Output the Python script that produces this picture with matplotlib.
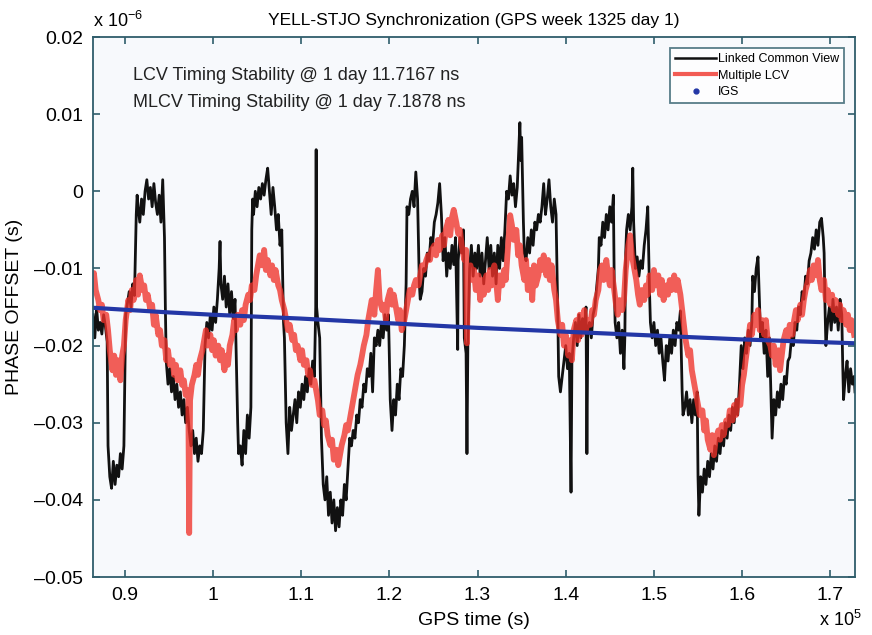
#!/usr/bin/env python
"""YELL-STJO synchronization: LCV vs multiple LCV vs IGS phase offset."""

import matplotlib

matplotlib.use("Agg")
import matplotlib.pyplot as plt
from matplotlib.lines import Line2D

# GPS time in units of 1e5 s, phase offset in units of 1e-6 s (as on the axes)
LCV_POINTS = [
    (0.864, -0.016), (0.866, -0.019), (0.868, -0.015), (0.870, -0.018), (0.872, -0.017),
    (0.874, -0.0185), (0.876, -0.016), (0.878, -0.0175), (0.880, -0.0195), (0.881, -0.033),
    (0.883, -0.037), (0.885, -0.0385), (0.887, -0.035), (0.889, -0.038), (0.891, -0.0355),
    (0.893, -0.037), (0.895, -0.034), (0.897, -0.036), (0.899, -0.033), (0.901, -0.016),
    (0.903, -0.0145), (0.905, -0.013), (0.907, -0.015), (0.909, -0.012), (0.911, -0.0135),
    (0.913, -0.003), (0.914, -0.0005), (0.915, -0.002), (0.917, -0.004), (0.919, -0.001),
    (0.921, -0.003), (0.923, 0.000), (0.925, 0.0015), (0.927, -0.001), (0.929, 0.0005),
    (0.931, -0.002), (0.933, 0.001), (0.935, -0.0015), (0.937, -0.003), (0.939, -0.0005),
    (0.941, -0.004), (0.943, 0.0015), (0.945, -0.006), (0.946, -0.015), (0.947, -0.022),
    (0.949, -0.025), (0.951, -0.023), (0.953, -0.026), (0.955, -0.024), (0.957, -0.027),
    (0.959, -0.025), (0.961, -0.028), (0.963, -0.026), (0.965, -0.029), (0.967, -0.027),
    (0.969, -0.030), (0.971, -0.028), (0.973, -0.031), (0.975, -0.033), (0.977, -0.031),
    (0.979, -0.034), (0.981, -0.032), (0.983, -0.035), (0.985, -0.033), (0.987, -0.034),
    (0.989, -0.031), (0.991, -0.020), (0.993, -0.017), (0.995, -0.019), (0.997, -0.016),
    (0.999, -0.018), (1.001, -0.015), (1.003, -0.017), (1.005, -0.014), (1.007, -0.010),
    (1.008, -0.0065), (1.009, -0.012), (1.011, -0.014), (1.013, -0.011), (1.015, -0.015),
    (1.017, -0.012), (1.019, -0.016), (1.021, -0.013), (1.023, -0.0165), (1.025, -0.014),
    (1.028, -0.030), (1.029, -0.034), (1.031, -0.033), (1.033, -0.0355), (1.035, -0.031),
    (1.037, -0.034), (1.039, -0.029), (1.041, -0.032), (1.043, -0.028), (1.044, -0.005),
    (1.045, -0.001), (1.046, -0.003), (1.048, 0.000), (1.050, -0.002), (1.052, 0.0005),
    (1.054, -0.001), (1.056, 0.001), (1.058, -0.0005), (1.060, 0.0015), (1.062, 0.003),
    (1.064, 0.000), (1.066, -0.003), (1.068, 0.0005), (1.070, -0.002), (1.072, -0.005),
    (1.074, -0.003), (1.076, -0.007), (1.078, -0.005), (1.080, -0.017), (1.081, -0.019),
    (1.083, -0.030), (1.085, -0.034), (1.087, -0.028), (1.089, -0.031), (1.091, -0.029),
    (1.093, -0.027), (1.095, -0.030), (1.097, -0.026), (1.099, -0.028), (1.101, -0.025),
    (1.103, -0.027), (1.105, -0.024), (1.107, -0.026), (1.109, -0.023), (1.111, -0.025),
    (1.113, -0.022), (1.115, -0.024), (1.1165, -0.015), (1.117, 0.0054), (1.1175, -0.015),
    (1.119, -0.017), (1.121, -0.019), (1.123, -0.032), (1.125, -0.038), (1.127, -0.040),
    (1.129, -0.037), (1.131, -0.042), (1.133, -0.039), (1.135, -0.043), (1.137, -0.040),
    (1.139, -0.044), (1.141, -0.041), (1.143, -0.0435), (1.145, -0.040), (1.147, -0.042),
    (1.149, -0.038), (1.151, -0.040), (1.153, -0.036), (1.155, -0.032), (1.157, -0.033),
    (1.159, -0.031), (1.161, -0.032), (1.163, -0.029), (1.165, -0.030), (1.167, -0.027),
    (1.169, -0.028), (1.171, -0.025), (1.173, -0.026), (1.175, -0.023), (1.177, -0.024),
    (1.179, -0.021), (1.181, -0.026), (1.183, -0.019), (1.185, -0.020), (1.187, -0.018),
    (1.189, -0.020), (1.191, -0.017), (1.193, -0.019), (1.195, -0.016), (1.197, -0.018),
    (1.199, -0.016), (1.201, -0.027), (1.203, -0.031), (1.205, -0.027), (1.207, -0.029),
    (1.209, -0.025), (1.211, -0.027), (1.213, -0.023), (1.215, -0.024), (1.217, -0.020),
    (1.219, -0.012), (1.220, -0.002), (1.222, -0.003), (1.224, -0.001), (1.226, 0.000),
    (1.228, -0.002), (1.230, 0.0025), (1.232, -0.001), (1.234, -0.012), (1.235, -0.014),
    (1.237, -0.013), (1.239, -0.010), (1.241, -0.011), (1.243, -0.008), (1.245, -0.009),
    (1.247, -0.006), (1.249, -0.007), (1.251, -0.004), (1.253, -0.003), (1.255, -0.0015),
    (1.257, 0.001), (1.259, -0.003), (1.261, -0.009), (1.263, -0.006), (1.265, -0.011),
    (1.267, -0.008), (1.269, -0.010), (1.271, -0.007), (1.273, -0.0095), (1.275, -0.006),
    (1.2775, -0.0205), (1.278, -0.009), (1.280, -0.006), (1.282, -0.008), (1.284, -0.005),
    (1.285, -0.019), (1.287, -0.021), (1.288, -0.034), (1.289, -0.020), (1.291, -0.010),
    (1.293, -0.007), (1.295, -0.011), (1.297, -0.008), (1.299, -0.010), (1.301, -0.007),
    (1.303, -0.011), (1.305, -0.008), (1.307, -0.012), (1.309, -0.009), (1.311, -0.006),
    (1.313, -0.010), (1.315, -0.007), (1.317, -0.011), (1.319, -0.008), (1.321, -0.012),
    (1.323, -0.007), (1.325, -0.010), (1.327, -0.006), (1.329, -0.009), (1.331, -0.005),
    (1.333, 0.000), (1.335, -0.001), (1.337, 0.002), (1.339, -0.0005), (1.341, 0.001),
    (1.343, -0.002), (1.345, 0.0005), (1.347, 0.006), (1.348, 0.0089), (1.349, 0.004),
    (1.350, 0.007), (1.352, -0.004), (1.353, -0.008), (1.355, -0.009), (1.357, -0.006),
    (1.359, -0.008), (1.361, -0.005), (1.363, -0.007), (1.365, -0.004), (1.367, -0.005),
    (1.369, -0.003), (1.371, -0.004), (1.373, -0.002), (1.375, 0.001), (1.377, -0.003),
    (1.379, -0.001), (1.381, 0.0015), (1.383, -0.002), (1.385, -0.004), (1.387, -0.001),
    (1.389, -0.003), (1.391, -0.016), (1.392, -0.024), (1.394, -0.026), (1.396, -0.024),
    (1.398, -0.022), (1.400, -0.020), (1.402, -0.023), (1.404, -0.021), (1.406, -0.039),
    (1.407, -0.022), (1.409, -0.019), (1.411, -0.017), (1.413, -0.020), (1.415, -0.016),
    (1.417, -0.019), (1.419, -0.0165), (1.421, -0.018), (1.423, -0.015), (1.424, -0.034),
    (1.425, -0.018), (1.427, -0.017), (1.429, -0.019), (1.431, -0.016), (1.433, -0.015),
    (1.437, -0.010), (1.438, -0.006), (1.440, -0.007), (1.442, -0.004), (1.444, -0.006),
    (1.446, -0.003), (1.448, -0.005), (1.450, -0.002), (1.452, -0.004), (1.454, -0.0005),
    (1.455, -0.012), (1.456, -0.017), (1.458, -0.019), (1.460, -0.017), (1.462, -0.021),
    (1.464, -0.018), (1.466, -0.023), (1.467, -0.019), (1.468, -0.008), (1.469, -0.005),
    (1.471, -0.003), (1.473, -0.005), (1.475, -0.002), (1.476, 0.003), (1.477, -0.004),
    (1.479, -0.010), (1.481, -0.0085), (1.483, -0.011), (1.485, -0.009), (1.487, -0.010),
    (1.489, -0.007), (1.491, -0.005), (1.493, -0.002), (1.495, -0.013), (1.496, -0.017),
    (1.498, -0.019), (1.500, -0.017), (1.502, -0.020), (1.504, -0.018), (1.506, -0.021),
    (1.508, -0.019), (1.510, -0.022), (1.512, -0.0245), (1.514, -0.020), (1.516, -0.022),
    (1.518, -0.019), (1.520, -0.021), (1.522, -0.018), (1.524, -0.020), (1.526, -0.017),
    (1.528, -0.018), (1.530, -0.0155), (1.532, -0.026), (1.533, -0.029), (1.535, -0.028),
    (1.537, -0.026), (1.539, -0.029), (1.541, -0.027), (1.543, -0.030), (1.545, -0.027),
    (1.547, -0.029), (1.549, -0.026), (1.550, -0.037), (1.551, -0.042), (1.553, -0.037),
    (1.555, -0.039), (1.557, -0.036), (1.559, -0.038), (1.561, -0.035), (1.563, -0.037),
    (1.565, -0.034), (1.567, -0.036), (1.569, -0.033), (1.571, -0.035), (1.573, -0.032),
    (1.575, -0.034), (1.577, -0.031), (1.579, -0.033), (1.581, -0.030), (1.583, -0.032),
    (1.585, -0.029), (1.587, -0.031), (1.589, -0.028), (1.591, -0.030), (1.593, -0.027),
    (1.595, -0.029), (1.597, -0.025), (1.599, -0.020), (1.601, -0.023), (1.603, -0.019),
    (1.605, -0.021), (1.607, -0.018), (1.609, -0.020), (1.611, -0.017), (1.612, -0.011),
    (1.614, -0.013), (1.616, -0.010), (1.618, -0.0085), (1.619, -0.012), (1.621, -0.019),
    (1.623, -0.017), (1.625, -0.021), (1.627, -0.018), (1.629, -0.024), (1.631, -0.019),
    (1.634, -0.032), (1.636, -0.027), (1.638, -0.029), (1.640, -0.026), (1.642, -0.028),
    (1.644, -0.025), (1.646, -0.027), (1.648, -0.024), (1.650, -0.025), (1.652, -0.022),
    (1.654, -0.0215), (1.656, -0.019), (1.658, -0.020), (1.660, -0.017), (1.662, -0.018),
    (1.664, -0.015), (1.666, -0.016), (1.668, -0.013), (1.670, -0.014), (1.672, -0.011),
    (1.674, -0.012), (1.676, -0.009), (1.678, -0.008), (1.680, -0.006), (1.682, -0.0075),
    (1.684, -0.005), (1.686, -0.007), (1.688, -0.004), (1.690, -0.0035), (1.692, -0.006),
    (1.693, -0.008), (1.694, -0.015), (1.695, -0.020), (1.697, -0.017), (1.699, -0.015),
    (1.701, -0.018), (1.703, -0.014), (1.705, -0.017), (1.707, -0.015), (1.709, -0.018),
    (1.711, -0.014), (1.713, -0.016), (1.714, -0.022), (1.715, -0.027), (1.717, -0.024),
    (1.719, -0.022), (1.721, -0.026), (1.723, -0.023), (1.725, -0.025), (1.727, -0.024),
    (1.728, -0.026),
]

MLCV_POINTS = [
    (0.864, -0.0122), (0.865, -0.0106), (0.867, -0.0128), (0.870, -0.0141), (0.872, -0.0154),
    (0.874, -0.0147), (0.876, -0.0167), (0.879, -0.0160), (0.881, -0.0180), (0.883, -0.0206),
    (0.886, -0.0232), (0.888, -0.0213), (0.890, -0.0238), (0.892, -0.0219), (0.895, -0.0245),
    (0.897, -0.0213), (0.899, -0.0200), (0.901, -0.0167), (0.904, -0.0141), (0.906, -0.0154),
    (0.908, -0.0128), (0.910, -0.0141), (0.913, -0.0115), (0.915, -0.0134), (0.917, -0.0109),
    (0.920, -0.0128), (0.922, -0.0122), (0.924, -0.0141), (0.926, -0.0134), (0.929, -0.0154),
    (0.931, -0.0147), (0.933, -0.0173), (0.935, -0.0160), (0.938, -0.0186), (0.940, -0.0180),
    (0.942, -0.0200), (0.945, -0.0193), (0.947, -0.0219), (0.949, -0.0206), (0.951, -0.0225),
    (0.954, -0.0219), (0.956, -0.0238), (0.958, -0.0225), (0.960, -0.0245), (0.963, -0.0232),
    (0.965, -0.0251), (0.967, -0.0245), (0.969, -0.0264), (0.972, -0.0258), (0.973, -0.0443),
    (0.974, -0.0271), (0.976, -0.0251), (0.979, -0.0238), (0.981, -0.0225), (0.983, -0.0238),
    (0.985, -0.0219), (0.988, -0.0206), (0.990, -0.0193), (0.992, -0.0180), (0.994, -0.0200),
    (0.997, -0.0186), (0.999, -0.0206), (1.001, -0.0193), (1.003, -0.0213), (1.006, -0.0200),
    (1.008, -0.0219), (1.010, -0.0206), (1.013, -0.0232), (1.015, -0.0213), (1.017, -0.0225),
    (1.019, -0.0200), (1.022, -0.0186), (1.024, -0.0167), (1.026, -0.0180), (1.028, -0.0160),
    (1.031, -0.0173), (1.033, -0.0154), (1.035, -0.0167), (1.037, -0.0147), (1.040, -0.0134),
    (1.042, -0.0141), (1.044, -0.0122), (1.047, -0.0128), (1.049, -0.0109), (1.051, -0.0096),
    (1.053, -0.0083), (1.056, -0.0096), (1.058, -0.0076), (1.060, -0.0102), (1.062, -0.0089),
    (1.065, -0.0109), (1.067, -0.0096), (1.069, -0.0115), (1.071, -0.0102), (1.074, -0.0122),
    (1.076, -0.0128), (1.078, -0.0141), (1.081, -0.0154), (1.083, -0.0167), (1.085, -0.0180),
    (1.087, -0.0173), (1.090, -0.0193), (1.092, -0.0186), (1.094, -0.0206), (1.096, -0.0200),
    (1.099, -0.0219), (1.101, -0.0206), (1.103, -0.0225), (1.106, -0.0219), (1.108, -0.0238),
    (1.110, -0.0232), (1.112, -0.0251), (1.115, -0.0245), (1.117, -0.0258), (1.119, -0.0271),
    (1.121, -0.0290), (1.124, -0.0284), (1.126, -0.0303), (1.128, -0.0297), (1.130, -0.0316),
    (1.133, -0.0329), (1.135, -0.0322), (1.137, -0.0348), (1.140, -0.0335), (1.142, -0.0355),
    (1.144, -0.0342), (1.146, -0.0329), (1.149, -0.0316), (1.151, -0.0303), (1.153, -0.0310),
    (1.155, -0.0297), (1.158, -0.0277), (1.160, -0.0264), (1.162, -0.0251), (1.164, -0.0238),
    (1.167, -0.0225), (1.169, -0.0213), (1.171, -0.0200), (1.174, -0.0186), (1.176, -0.0167),
    (1.178, -0.0154), (1.180, -0.0141), (1.183, -0.0160), (1.185, -0.0128), (1.187, -0.0102),
    (1.189, -0.0141), (1.192, -0.0154), (1.194, -0.0147), (1.196, -0.0167), (1.198, -0.0141),
    (1.201, -0.0128), (1.203, -0.0147), (1.205, -0.0134), (1.208, -0.0154), (1.210, -0.0167),
    (1.212, -0.0154), (1.214, -0.0180), (1.217, -0.0167), (1.219, -0.0154), (1.221, -0.0141),
    (1.223, -0.0128), (1.226, -0.0134), (1.228, -0.0122), (1.230, -0.0115), (1.233, -0.0122),
    (1.235, -0.0109), (1.237, -0.0096), (1.239, -0.0102), (1.242, -0.0089), (1.244, -0.0083),
    (1.246, -0.0089), (1.248, -0.0076), (1.251, -0.0070), (1.253, -0.0083), (1.255, -0.0063),
    (1.257, -0.0076), (1.260, -0.0057), (1.262, -0.0070), (1.264, -0.0050), (1.267, -0.0037),
    (1.269, -0.0057), (1.271, -0.0034), (1.273, -0.0024), (1.276, -0.0041), (1.278, -0.0055),
    (1.280, -0.0050), (1.282, -0.0070), (1.285, -0.0089), (1.287, -0.0076), (1.288, -0.0197),
    (1.289, -0.0109), (1.292, -0.0096), (1.294, -0.0115), (1.296, -0.0102), (1.298, -0.0128),
    (1.301, -0.0109), (1.303, -0.0141), (1.305, -0.0115), (1.307, -0.0134), (1.310, -0.0109),
    (1.312, -0.0128), (1.314, -0.0102), (1.316, -0.0122), (1.319, -0.0096), (1.321, -0.0115),
    (1.323, -0.0141), (1.325, -0.0109), (1.328, -0.0122), (1.330, -0.0102), (1.332, -0.0115),
    (1.335, -0.0063), (1.337, -0.0031), (1.339, -0.0044), (1.341, -0.0063), (1.344, -0.0050),
    (1.346, -0.0083), (1.348, -0.0070), (1.350, -0.0096), (1.353, -0.0115), (1.355, -0.0089),
    (1.357, -0.0128), (1.360, -0.0102), (1.362, -0.0141), (1.364, -0.0096), (1.366, -0.0122),
    (1.369, -0.0109), (1.371, -0.0089), (1.373, -0.0102), (1.375, -0.0083), (1.378, -0.0109),
    (1.380, -0.0089), (1.382, -0.0115), (1.384, -0.0096), (1.387, -0.0128), (1.389, -0.0141),
    (1.391, -0.0167), (1.394, -0.0186), (1.396, -0.0173), (1.398, -0.0200), (1.400, -0.0186),
    (1.403, -0.0213), (1.405, -0.0193), (1.407, -0.0219), (1.409, -0.0180), (1.412, -0.0167),
    (1.414, -0.0193), (1.416, -0.0160), (1.418, -0.0186), (1.421, -0.0154), (1.423, -0.0180),
    (1.425, -0.0167), (1.428, -0.0173), (1.430, -0.0154), (1.432, -0.0160), (1.434, -0.0141),
    (1.437, -0.0128), (1.439, -0.0102), (1.441, -0.0096), (1.443, -0.0115), (1.446, -0.0089),
    (1.448, -0.0109), (1.450, -0.0122), (1.452, -0.0102), (1.455, -0.0128), (1.457, -0.0147),
    (1.459, -0.0160), (1.461, -0.0141), (1.464, -0.0154), (1.466, -0.0141), (1.468, -0.0102),
    (1.471, -0.0070), (1.473, -0.0057), (1.475, -0.0083), (1.477, -0.0096), (1.480, -0.0115),
    (1.482, -0.0134), (1.484, -0.0147), (1.486, -0.0128), (1.489, -0.0141), (1.491, -0.0122),
    (1.493, -0.0134), (1.495, -0.0109), (1.498, -0.0128), (1.500, -0.0102), (1.502, -0.0122),
    (1.505, -0.0109), (1.507, -0.0134), (1.509, -0.0115), (1.511, -0.0141), (1.514, -0.0122),
    (1.516, -0.0134), (1.518, -0.0115), (1.520, -0.0128), (1.523, -0.0109), (1.525, -0.0128),
    (1.527, -0.0115), (1.530, -0.0134), (1.532, -0.0154), (1.534, -0.0173), (1.536, -0.0193),
    (1.539, -0.0213), (1.541, -0.0206), (1.543, -0.0232), (1.545, -0.0245), (1.548, -0.0264),
    (1.550, -0.0277), (1.552, -0.0290), (1.555, -0.0284), (1.557, -0.0310), (1.559, -0.0297),
    (1.561, -0.0322), (1.564, -0.0335), (1.566, -0.0316), (1.568, -0.0342), (1.570, -0.0322),
    (1.573, -0.0310), (1.575, -0.0322), (1.577, -0.0303), (1.579, -0.0316), (1.582, -0.0297),
    (1.584, -0.0303), (1.586, -0.0284), (1.589, -0.0297), (1.591, -0.0277), (1.593, -0.0290),
    (1.595, -0.0271), (1.598, -0.0277), (1.600, -0.0251), (1.602, -0.0238), (1.604, -0.0219),
    (1.607, -0.0193), (1.609, -0.0173), (1.611, -0.0186), (1.614, -0.0160), (1.616, -0.0173),
    (1.618, -0.0154), (1.620, -0.0180), (1.623, -0.0167), (1.625, -0.0186), (1.627, -0.0167),
    (1.629, -0.0193), (1.632, -0.0200), (1.634, -0.0213), (1.636, -0.0200), (1.638, -0.0225),
    (1.641, -0.0206), (1.643, -0.0232), (1.645, -0.0213), (1.647, -0.0193), (1.650, -0.0180),
    (1.652, -0.0193), (1.654, -0.0173), (1.657, -0.0186), (1.659, -0.0167), (1.661, -0.0154),
    (1.663, -0.0167), (1.666, -0.0147), (1.668, -0.0160), (1.670, -0.0141), (1.672, -0.0128),
    (1.675, -0.0115), (1.677, -0.0102), (1.679, -0.0115), (1.681, -0.0096), (1.684, -0.0109),
    (1.686, -0.0089), (1.688, -0.0115), (1.690, -0.0128), (1.693, -0.0115), (1.695, -0.0141),
    (1.697, -0.0128), (1.700, -0.0147), (1.702, -0.0134), (1.704, -0.0154), (1.706, -0.0141),
    (1.709, -0.0160), (1.711, -0.0147), (1.713, -0.0167), (1.715, -0.0154), (1.718, -0.0173),
    (1.720, -0.0160), (1.722, -0.0180), (1.724, -0.0167), (1.727, -0.0186),
]

IGS_X = [0.864, 0.95, 1.0, 1.1, 1.2, 1.3, 1.4, 1.5, 1.6, 1.728]
IGS_Y = [-0.0151, -0.0157, -0.0160, -0.0165, -0.0171, -0.0177, -0.0182, -0.0187, -0.0192, -0.0197]

X_TICKS = [0.9, 1.0, 1.1, 1.2, 1.3, 1.4, 1.5, 1.6, 1.7]
X_TICK_LABELS = ["0.9", "1", "1.1", "1.2", "1.3", "1.4", "1.5", "1.6", "1.7"]
Y_TICKS = [-0.05, -0.04, -0.03, -0.02, -0.01, 0.0, 0.01, 0.02]
Y_TICK_LABELS = ["\u20130.05", "\u20130.04", "\u20130.03", "\u20130.02", "\u20130.01", "0", "0.01", "0.02"]

TITLE = "YELL-STJO Synchronization (GPS week 1325 day 1)"
NOTES = [
    "LCV Timing Stability @ 1 day 11.7167 ns",
    "MLCV Timing Stability @ 1 day 7.1878 ns",
]

SPINE_COLOR = "#2f5d6b"
LCV_COLOR = "#111111"
MLCV_COLOR = "#f0322a"
IGS_COLOR = "#2337a6"


def style_matplotlib() -> None:
    plt.rcParams.update(
        {
            "font.family": ["Liberation Sans", "DejaVu Sans"],
            "font.size": 14,
            "mathtext.fontset": "custom",
            "mathtext.rm": "Liberation Sans",
            "mathtext.it": "Liberation Sans",
        }
    )


def main() -> None:
    style_matplotlib()
    fig = plt.figure(figsize=(8.72, 6.35), dpi=100)
    ax = fig.add_axes([0.1067, 0.0913, 0.8738, 0.8504])
    ax.set_facecolor("#f7f9fc")

    lx, ly = zip(*LCV_POINTS)
    mx, my = zip(*MLCV_POINTS)
    ax.plot(lx, ly, color=LCV_COLOR, linewidth=2.0)
    ax.plot(mx, my, color=MLCV_COLOR, linewidth=4.2, alpha=0.78)
    ax.plot(IGS_X, IGS_Y, color=IGS_COLOR, linewidth=3.0)

    ax.set_xlim(0.864, 1.728)
    ax.set_ylim(-0.05, 0.02)
    ax.set_xticks(X_TICKS)
    ax.set_xticklabels(X_TICK_LABELS)
    ax.set_yticks(Y_TICKS)
    ax.set_yticklabels(Y_TICK_LABELS)
    ax.tick_params(direction="in", top=True, right=True, length=5, width=1.2,
                   color=SPINE_COLOR, labelsize=14, pad=7)
    for spine in ax.spines.values():
        spine.set_color(SPINE_COLOR)
        spine.set_linewidth(1.3)

    ax.set_xlabel("GPS time (s)", fontsize=14, labelpad=6)
    ax.set_ylabel("PHASE OFFSET (s)", fontsize=14, labelpad=8)
    ax.set_title(TITLE, fontsize=12.5, pad=9)
    ax.text(0.0, 1.012, r"x 10$^{-6}$", transform=ax.transAxes, fontsize=13, ha="left", va="bottom")
    ax.text(0.953, -0.08, r"x 10$^{5}$", transform=ax.transAxes, fontsize=13, ha="left", va="center")

    for i, note in enumerate(NOTES):
        ax.text(0.0525, 0.929 - 0.05 * i, note, transform=ax.transAxes,
                fontsize=13, ha="left", va="center", color="#222222")

    handles = [
        Line2D([], [], color=LCV_COLOR, linewidth=1.8),
        Line2D([], [], color=MLCV_COLOR, linewidth=3.0, alpha=0.8),
        Line2D([], [], color=IGS_COLOR, linestyle="none", marker=".", markersize=7),
    ]
    labels = ["Linked Common View", "Multiple LCV", "IGS"]
    leg = ax.legend(handles, labels, loc="upper right", fontsize=9, frameon=True,
                    fancybox=False, handlelength=3.3, handletextpad=0.1,
                    borderaxespad=0.9, labelspacing=0.35, borderpad=0.4)
    leg.get_frame().set_edgecolor(SPINE_COLOR)
    leg.get_frame().set_linewidth(1.3)
    leg.get_frame().set_facecolor("white")

    fig.savefig("out.png", dpi=100)
    plt.close(fig)


if __name__ == "__main__":
    main()
